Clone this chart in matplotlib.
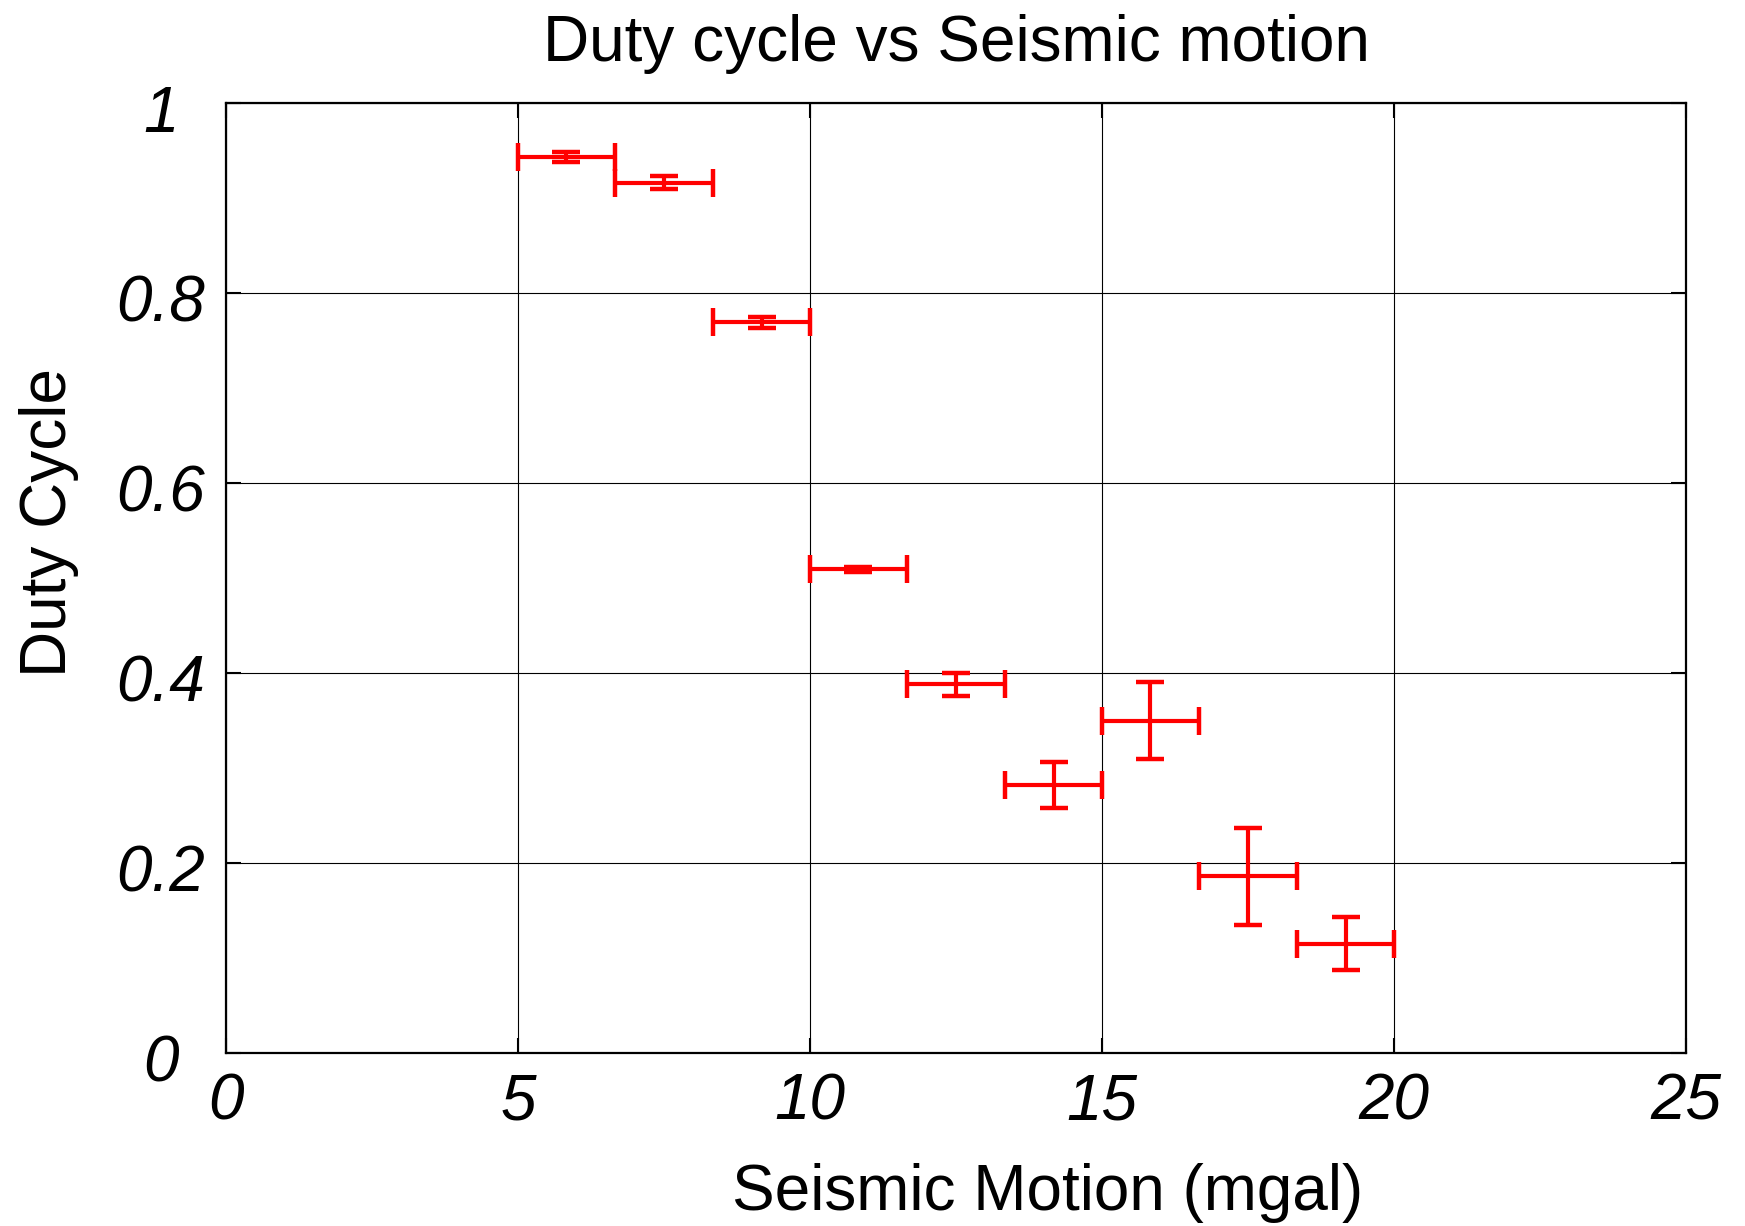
import matplotlib
matplotlib.use("Agg")
import matplotlib.pyplot as plt
import matplotlib.transforms as mtransforms

plt.rcParams['font.family'] = ['Liberation Sans', 'DejaVu Sans']

# data
motion = [5.83, 7.5, 9.17, 10.83, 12.5, 14.17, 15.83, 17.5, 19.17]
motion_err = [0.833, 0.833, 0.833, 0.833, 0.833, 0.833, 0.833, 0.833, 0.833]
duty = [0.943, 0.916, 0.769, 0.509, 0.388, 0.282, 0.350, 0.186, 0.115]
duty_err = [0.005, 0.007, 0.006, 0.003, 0.012, 0.024, 0.041, 0.051, 0.028]

xticks = [0, 5, 10, 15, 20, 25]
yticks = [0, 0.2, 0.4, 0.6, 0.8, 1]
ytick_labels = ["0", "0.2", "0.4", "0.6", "0.8", "1"]

fig = plt.figure(figsize=(17.45, 12.26), dpi=100)
ax = fig.add_axes([226/1745, 1 - 1053/1226, (1686-226)/1745, (1053-103)/1226])

ax.errorbar(motion, duty, xerr=motion_err, yerr=duty_err, fmt='none',
            ecolor='red', elinewidth=3, capsize=10, capthick=3.2, zorder=3)

ax.set_xlim(0, 25)
ax.set_ylim(0, 1)
ax.set_xticks(xticks)
ax.set_yticks(yticks)
ax.set_yticklabels(ytick_labels)
ax.grid(True, color='black', linewidth=0.8)
ax.set_axisbelow(True)
for s in ax.spines.values():
    s.set_linewidth(1.6)
ax.tick_params(direction='in', length=11, width=1.5, top=True, right=True,
               labelsize=46)
ax.tick_params(axis='x', pad=14)
ax.tick_params(axis='y', pad=47)
for lab in ax.get_xticklabels():
    lab.set_fontstyle('italic')
shift = mtransforms.ScaledTranslation(0, -5/100, fig.dpi_scale_trans)
for lab in ax.get_yticklabels():
    lab.set_fontstyle('italic')
    lab.set_horizontalalignment('center')
    lab.set_transform(lab.get_transform() + shift)

ax.set_title("Duty cycle vs Seismic motion", fontsize=46, pad=30)
ax.set_xlabel("Seismic Motion (mgal)", fontsize=46)
ax.xaxis.set_label_coords(0.563, -0.116)
ax.set_ylabel("Duty Cycle", fontsize=46)
ax.yaxis.set_label_coords(-0.101, 0.558)

fig.savefig("out.png", dpi=100)
